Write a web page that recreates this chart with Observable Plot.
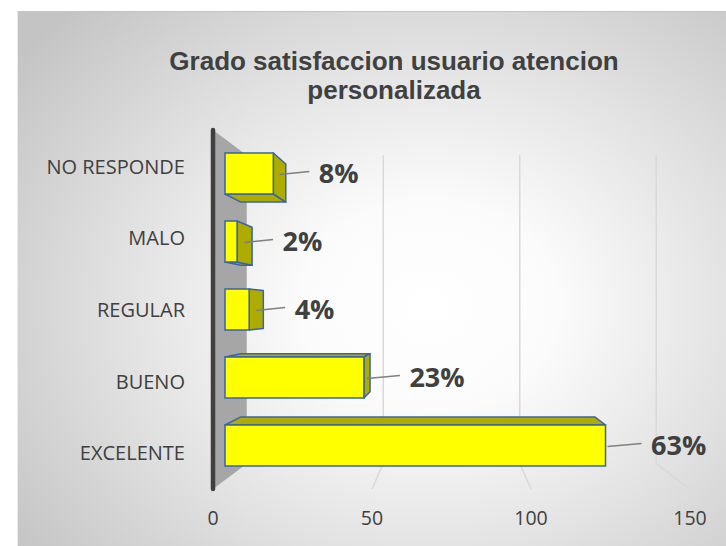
<!DOCTYPE html>
<html><head><meta charset="utf-8">
<script src="https://cdn.jsdelivr.net/npm/d3@7"></script>
<script src="https://cdn.jsdelivr.net/npm/@observablehq/plot@0.6"></script>
<style>
body{margin:0;background:#fff;}
#wrap{position:relative;width:726px;height:546px;overflow:hidden;}
#bg{position:absolute;left:17px;top:11px;width:709px;height:535px;border-top:1px solid #c4c4c4;border-left:1px solid #ebebeb;
background:radial-gradient(ellipse 72% 78% at 58% 55%, #ffffff 0%, #fbfbfb 25%, #e2e2e2 60%, #c4c4c4 100%);}
#title{position:absolute;left:94px;top:47px;width:600px;text-align:center;font:bold 26px "Liberation Sans",Arial,sans-serif;line-height:29px;color:#404040;}
#plot{position:absolute;left:0;top:0;}
</style></head>
<body><div id="wrap"><div id="bg"></div><div id="title">Grado satisfaccion usuario atencion<br>personalizada</div><div id="plot"></div></div>
<script>
const categories = ["NO RESPONDE","MALO","REGULAR","BUENO","EXCELENTE"];
const counts = [16, 4, 8, 46, 126];
const percentLabels = ["8%","2%","4%","23%","63%"];
const xTicks = [0, 50, 100, 150];
const gridTicks = [50, 100, 150];

const data = categories.map((c, i) => ({category: c, value: counts[i], label: percentLabels[i]}));

// perspective depths (relative to the plane of the bars' front faces)
const R_FRONT = 1.053, R_BACK = 0.904, R_BAR_BACK = 0.93;
const NS = "http://www.w3.org/2000/svg";
const TEXT = "#404040";
const FONT = "'Open Sans', 'Liberation Sans', sans-serif";

function el(tag, attrs, parent) {
  const e = document.createElementNS(NS, tag);
  for (const k in attrs) e.setAttribute(k, attrs[k]);
  if (parent) parent.appendChild(e);
  return e;
}
function frame(scales, dimensions) {
  const {x, y} = scales;
  const [d0, d1] = x.domain();
  const top = dimensions.marginTop, bottom = dimensions.height - dimensions.marginBottom;
  const vx = (x(d0) + x(d1)) / 2, vy = (top + bottom) / 2;
  const bw = y.bandwidth ? y.bandwidth() : (bottom - top) / categories.length * 0.6;
  const P = (px, py, r) => [vx + (px - vx) * r, vy + (py - vy) * r];
  return {x, y, top, bottom, vx, vy, bw, P};
}
const pts = a => a.map(p => p.join(",")).join(" ");

function backdrop(index, scales, values, dimensions) {
  const {x, y, top, bottom, bw, P} = frame(scales, dimensions);
  const g = el("g", {});
  const x0 = x(0);
  el("polygon", {points: pts([P(x0, top, R_FRONT), P(x0, top, R_BACK), P(x0, bottom, R_BACK), P(x0, bottom, R_FRONT)]), fill: "#a6a6a6"}, g);
  for (const v of gridTicks) {
    el("polyline", {points: pts([P(x(v), top, R_BACK), P(x(v), bottom, R_BACK), P(x(v), bottom, R_FRONT)]), fill: "none", stroke: "#d9d9d9", "stroke-width": 1.5}, g);
  }
  const a = P(x0, top, R_FRONT), b = P(x0, bottom, R_FRONT);
  el("line", {x1: a[0], y1: a[1], x2: b[0], y2: b[1], stroke: "#404040", "stroke-width": 4.5, "stroke-linecap": "round"}, g);
  for (const v of xTicks) {
    const p = P(x(v), bottom, R_FRONT);
    const t = el("text", {x: p[0], y: p[1] + 28, "text-anchor": "middle", "dominant-baseline": "central", fill: TEXT, "font-size": 19.5, "font-family": FONT}, g);
    t.textContent = String(v);
  }
  for (const c of categories) {
    const p = P(x0, y(c) + bw / 2, R_FRONT);
    const t = el("text", {x: p[0] - 28, y: p[1], "text-anchor": "end", "dominant-baseline": "central", fill: TEXT, "font-size": 20, "font-family": FONT}, g);
    t.textContent = c;
  }
  return g;
}

function barSides(index, scales, values, dimensions) {
  const {x, y, vx, vy, bw, P} = frame(scales, dimensions);
  const g = el("g", {});
  for (const d of data) {
    const x0 = x(0), x1 = x(d.value), y0 = y(d.category), y1 = y0 + bw;
    const F = [[x0, y0], [x1, y0], [x1, y1], [x0, y1]];
    const B = F.map(p => P(p[0], p[1], R_BAR_BACK));
    const faces = [];
    if (y0 > vy) faces.push([F[0], F[1], B[1], B[0]]);
    if (y1 < vy) faces.push([F[3], F[2], B[2], B[3]]);
    if (x1 < vx) faces.push([F[1], F[2], B[2], B[1]]);
    for (const f of faces) el("polygon", {points: pts(f), fill: "#aeac00", stroke: "#3a64a8", "stroke-width": 1.5, "stroke-linejoin": "round"}, g);
  }
  return g;
}

function leaders(index, scales, values, dimensions) {
  const {x, y, vx, bw, P} = frame(scales, dimensions);
  const g = el("g", {});
  for (const d of data) {
    const x1 = x(d.value), cy = y(d.category) + bw / 2;
    const sx = x1 < vx ? (x1 + P(x1, cy, R_BAR_BACK)[0]) / 2 : x1 + 2;
    el("polyline", {points: pts([[sx, cy + 1], [x1 + 36, cy - 2]]), fill: "none", stroke: "#7f7f7f", "stroke-width": 1.5}, g);
  }
  return g;
}

const chart = Plot.plot({
  width: 726, height: 546,
  marginLeft: 225, marginRight: 48, marginTop: 139, marginBottom: 66,
  x: {domain: [0, 150], axis: null},
  y: {domain: categories, axis: null, paddingInner: 0.4, paddingOuter: 0.2},
  style: {background: "transparent", overflow: "visible"},
  marks: [
    backdrop,
    barSides,
    Plot.barX(data, {x: "value", y: "category", fill: "#ffff00", stroke: "#3a64a8", strokeWidth: 1.5}),
    leaders,
    Plot.text(data, {x: "value", y: "category", text: "label", dx: 45, textAnchor: "start", fontWeight: "bold", fontSize: 27, fill: TEXT, fontFamily: FONT})
  ]
});
document.getElementById("plot").appendChild(chart);
</script>
</body></html>
